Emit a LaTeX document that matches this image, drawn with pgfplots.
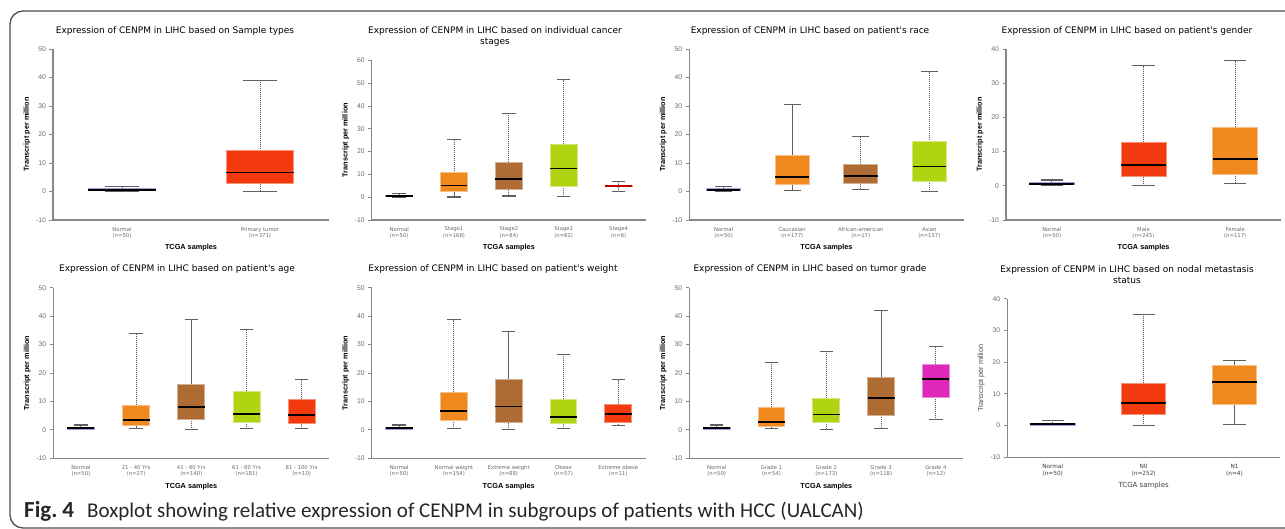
\documentclass[border=0pt]{standalone}
\usepackage{fontspec}
\setmainfont{Liberation Sans}
\newfontfamily\dejavu{DejaVu Sans}
\newfontfamily\capf{Carlito}
\usepackage{pgfplots}
\pgfplotsset{compat=1.18}
\usepgfplotslibrary{statistics}

\definecolor{nblue}{RGB}{75,90,205}
\definecolor{tred}{RGB}{242,58,14}
\definecolor{torange}{RGB}{240,138,30}
\definecolor{tbrown}{RGB}{174,108,52}
\definecolor{tlime}{RGB}{176,212,18}
\definecolor{tmag}{RGB}{222,40,186}
\definecolor{axgray}{RGB}{135,135,135}
\definecolor{tickgray}{RGB}{105,105,105}
\definecolor{whgray}{RGB}{95,95,95}
\definecolor{framegray}{RGB}{80,80,80}

\newcommand{\titlefont}{\dejavu\fontsize{9}{11}\selectfont}
\newcommand{\labfont}{\bfseries\fontsize{7.3}{8}\selectfont}
\newcommand{\ytickfont}{\fontsize{6.8}{8}\selectfont}
\newcommand{\xtickfont}{\dejavu\fontsize{5.3}{6.3}\selectfont}

\tikzset{
  whisk/.style={draw=whgray, line width=0.9pt, dash pattern=on 1.2pt off 0.8pt},
  wcap/.style={draw=whgray, line width=1.1pt, solid},
}
\pgfplotsset{
  panel/.style={
    scale only axis, anchor=south west, clip=false,
    axis x line*=bottom, axis y line*=left,
    axis line style={draw=axgray, line width=1.1pt},
    ymin=-10, xmin=0.5, ytick distance=10,
    /pgf/number format/assume math mode=true,
    y tick label style={font=\ytickfont, text=tickgray},
    x tick label style={font=\xtickfont, text=tickgray, align=center},
    major x tick style={draw=none},
    major y tick style={draw=axgray, line width=0.8pt},
    tick align=outside, major tick length=3.5pt,
    ylabel={Transcript per million}, xlabel={TCGA samples},
    every axis y label/.style={at={(axis description cs:0,0.5)}, xshift=-26pt, rotate=90, anchor=center, font=\labfont},
    every axis x label/.style={at={(axis description cs:0.5,0)}, yshift=-28pt, anchor=center, font=\labfont},
    boxplot/draw direction=y,
    boxplot/box extend=0.49, boxplot/whisker extend=0.245,
    boxplot/every median/.style={draw=black, line width=1.8pt},
    boxplot/draw/lower whisker/.code={%
      \draw[whisk] (boxplot cs:\pgfplotsboxplotvalue{lower quartile}) -- (boxplot cs:\pgfplotsboxplotvalue{lower whisker});
      \draw[wcap] (boxplot whisker cs:\pgfplotsboxplotvalue{lower whisker},0) -- (boxplot whisker cs:\pgfplotsboxplotvalue{lower whisker},1);
    },
    boxplot/draw/upper whisker/.code={%
      \draw[whisk] (boxplot cs:\pgfplotsboxplotvalue{upper quartile}) -- (boxplot cs:\pgfplotsboxplotvalue{upper whisker});
      \draw[wcap] (boxplot whisker cs:\pgfplotsboxplotvalue{upper whisker},0) -- (boxplot whisker cs:\pgfplotsboxplotvalue{upper whisker},1);
    },
  },
  bx/.style={fill=#1, draw=#1!55!white, line width=0.9pt},
}
% position, colour, lower whisker, lower quartile, median, upper quartile, upper whisker
\newcommand{\bp}[8][]{\addplot[bx=#3, boxplot prepared={draw position=#2, lower whisker=#4, lower quartile=#5, median=#6, upper quartile=#7, upper whisker=#8}, #1] coordinates {};}

\begin{document}
\begin{tikzpicture}
\useasboundingbox (0,0) rectangle (1285pt,-529pt);
\draw[framegray, line width=1.3pt, rounded corners=13pt] (1300pt,-11pt) -- (10pt,-11pt) -- (10pt,-528pt) -- (1300pt,-528pt);

% ---- row 1 ----
\node[font=\titlefont] at (175pt,-31pt) {Expression of CENPM in LIHC based on Sample types};
\begin{axis}[panel, at={(53pt,-220pt)}, width=276pt, height=171pt, ymax=50, xmax=2.5,
  xtick={1,2}, xticklabels={{Normal\\(n=50)},{Primary tumor\\(n=371)}}]
\bp{1}{nblue}{0}{0.25}{0.55}{0.95}{1.7}
\bp{2}{tred}{0.1}{2.7}{6.7}{14.3}{38.8}
\end{axis}

\node[font=\titlefont, align=center] at (495pt,-37pt) {Expression of CENPM in LIHC based on individual cancer\\stages};
\begin{axis}[panel, at={(371.7pt,-220pt)}, width=274.3pt, height=159.7pt, ymax=60, xmax=5.5,
  xtick={1,...,5}, xticklabels={{Normal\\(n=50)},{Stage1\\(n=168)},{Stage2\\(n=84)},{Stage3\\(n=82)},{Stage4\\(n=6)}}]
\bp{1}{nblue}{0}{0.25}{0.55}{0.95}{1.8}
\bp{2}{torange}{0.1}{2.5}{5.1}{10.7}{25.1}
\bp{3}{tbrown}{0.5}{3.2}{7.8}{15.4}{36.7}
\bp{4}{tlime}{0.4}{4.8}{12.6}{23.3}{51.5}
\bp[boxplot/every median/.style={draw=red!75!black, line width=1.8pt}]{5}{tred}{2.5}{4.6}{4.9}{5.2}{6.7}
\end{axis}

\node[font=\titlefont] at (810pt,-31pt) {Expression of CENPM in LIHC based on patient's race};
\begin{axis}[panel, at={(689.3pt,-220pt)}, width=274.3pt, height=171pt, ymax=50, xmax=4.5,
  xtick={1,...,4}, xticklabels={{Normal\\(n=50)},{Caucasian\\(n=177)},{African-american\\(n=17)},{Asian\\(n=157)}}]
\bp{1}{nblue}{0}{0.25}{0.55}{0.95}{1.7}
\bp{2}{torange}{0.2}{2.5}{5.0}{12.6}{30.6}
\bp{3}{tbrown}{0.7}{2.7}{5.5}{9.6}{19.4}
\bp{4}{tlime}{0.1}{3.7}{8.8}{17.4}{42}
\end{axis}

\node[font=\titlefont] at (1127pt,-31pt) {Expression of CENPM in LIHC based on patient's gender};
\begin{axis}[panel, at={(1006pt,-220pt)}, width=275pt, height=171pt, ymax=40, xmax=3.5,
  xtick={1,2,3}, xticklabels={{Normal\\(n=50)},{Male\\(n=245)},{Female\\(n=117)}}]
\bp{1}{nblue}{0}{0.25}{0.55}{0.95}{1.7}
\bp{2}{tred}{0.2}{2.6}{6.0}{12.8}{35.1}
\bp{3}{torange}{0.6}{3.4}{7.9}{17.1}{36.6}
\end{axis}

% ---- row 2 ----
\node[font=\titlefont] at (177pt,-269pt) {Expression of CENPM in LIHC based on patient's age};
\begin{axis}[panel, at={(53.3pt,-458.3pt)}, width=276pt, height=170.6pt, ymax=50, xmax=5.5,
  xtick={1,...,5}, xticklabels={{Normal\\(n=50)},{21 - 40 Yrs\\(n=27)},{41 - 60 Yrs\\(n=140)},{61 - 80 Yrs\\(n=181)},{81 - 100 Yrs\\(n=10)}}]
\bp{1}{nblue}{0}{0.25}{0.55}{0.95}{1.7}
\bp{2}{torange}{0.35}{1.6}{3.6}{8.7}{33.9}
\bp{3}{tbrown}{0.2}{3.75}{8.1}{15.9}{38.7}
\bp{4}{tlime}{0.35}{2.7}{5.7}{13.5}{35.2}
\bp{5}{tred}{0.6}{2.1}{5.2}{10.7}{17.7}
\end{axis}

\node[font=\titlefont] at (493pt,-269pt) {Expression of CENPM in LIHC based on patient's weight};
\begin{axis}[panel, at={(371.7pt,-458.3pt)}, width=274pt, height=170.6pt, ymax=50, xmax=5.5,
  xtick={1,...,5}, xticklabels={{Normal\\(n=50)},{Normal weight\\(n=154)},{Extreme weight\\(n=88)},{Obese\\(n=57)},{Extreme obese\\(n=11)}}]
\bp{1}{nblue}{0}{0.25}{0.55}{0.95}{1.7}
\bp{2}{torange}{0.35}{3.4}{6.7}{13.2}{38.8}
\bp{3}{tbrown}{0.1}{2.5}{8.2}{17.7}{34.5}
\bp{4}{tlime}{0.35}{2.1}{4.5}{10.8}{26.6}
\bp{5}{tred}{1.4}{2.7}{5.5}{9.1}{17.7}
\end{axis}

\node[font=\titlefont] at (810pt,-269pt) {Expression of CENPM in LIHC based on tumor grade};
\begin{axis}[panel, at={(689.3pt,-458.3pt)}, width=274pt, height=170.6pt, ymax=50, xmax=5.5,
  xtick={1,...,5}, xticklabels={{Normal\\(n=50)},{Grade 1\\(n=54)},{Grade 2\\(n=173)},{Grade 3\\(n=118)},{Grade 4\\(n=12)}}]
\bp{1}{nblue}{0}{0.25}{0.55}{0.95}{1.7}
\bp{2}{torange}{0.35}{1.05}{2.8}{7.9}{23.7}
\bp{3}{tlime}{0.2}{2.7}{5.4}{11.1}{27.6}
\bp{4}{tbrown}{0.45}{5.2}{11.1}{18.4}{42.1}
\bp{5}{tmag}{3.6}{11.5}{17.9}{23.1}{29.2}
\end{axis}

\node[font=\titlefont, align=center] at (1127pt,-275pt) {Expression of CENPM in LIHC based on nodal metastasis\\status};
\begin{axis}[panel, at={(1007.3pt,-457.3pt)}, width=272.7pt, height=158.6pt, ymax=40, xmax=3.5,
  xtick={1,2,3}, xticklabels={{Normal\\(n=50)},{N0\\(n=252)},{N1\\(n=4)}},
  x tick label style={font=\dejavu\fontsize{5.8}{6.8}\selectfont, text=black!75},
  every axis y label/.append style={font=\fontsize{7.3}{8}\selectfont, text=black!70},
  every axis x label/.append style={font=\dejavu\fontsize{7}{8}\selectfont, text=black!75}]
\bp{1}{nblue}{-0.1}{0.1}{0.4}{0.75}{1.7}
\bp{2}{tred}{0.1}{3.4}{7.2}{13.4}{35.1}
\bp{3}{torange}{0.3}{6.7}{13.8}{18.9}{20.5}
\end{axis}

% caption
\node[anchor=base west, inner sep=0pt, font=\capf\bfseries\fontsize{23}{25}\selectfont, text=black!85] at (24pt,-517pt) {Fig.\hspace{5pt}4};
\node[anchor=base west, inner sep=0pt, font=\capf\fontsize{21}{23}\selectfont, text=black!85] at (87pt,-517pt)
  {Boxplot showing relative expression of CENPM in subgroups of patients with HCC (UALCAN)};
\end{tikzpicture}
\end{document}
